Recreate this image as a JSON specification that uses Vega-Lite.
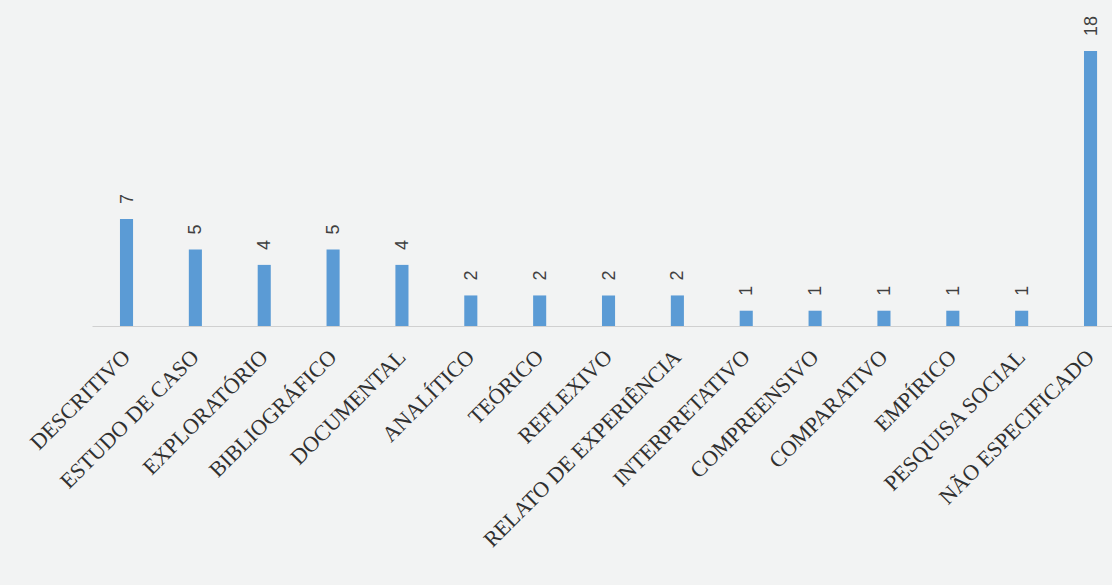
{
  "$schema": "https://vega.github.io/schema/vega-lite/v6.json",
  "width": 1020,
  "height": 275,
  "autosize": {"type": "none"},
  "padding": {"left": 92, "top": 51, "right": 0, "bottom": 259},
  "background": "#f2f3f3",
  "config": {"view": {"stroke": null}},
  "data": {
    "values": [
      {"categoria": "DESCRITIVO", "valor": 7},
      {"categoria": "ESTUDO DE CASO", "valor": 5},
      {"categoria": "EXPLORATÓRIO", "valor": 4},
      {"categoria": "BIBLIOGRÁFICO", "valor": 5},
      {"categoria": "DOCUMENTAL", "valor": 4},
      {"categoria": "ANALÍTICO", "valor": 2},
      {"categoria": "TEÓRICO", "valor": 2},
      {"categoria": "REFLEXIVO", "valor": 2},
      {"categoria": "RELATO DE EXPERIÊNCIA", "valor": 2},
      {"categoria": "INTERPRETATIVO", "valor": 1},
      {"categoria": "COMPREENSIVO", "valor": 1},
      {"categoria": "COMPARATIVO", "valor": 1},
      {"categoria": "EMPÍRICO", "valor": 1},
      {"categoria": "PESQUISA SOCIAL", "valor": 1},
      {"categoria": "NÃO ESPECIFICADO", "valor": 18}
    ]
  },
  "encoding": {
    "x": {
      "field": "categoria",
      "type": "nominal",
      "sort": null,
      "scale": {"paddingInner": 0.81, "paddingOuter": 0.3115, "align": 0.652},
      "axis": {
        "title": null,
        "ticks": false,
        "domainColor": "#d0d0d0",
        "domainWidth": 1,
        "labelAngle": -45,
        "labelAlign": "right",
        "labelBaseline": "middle",
        "labelPadding": 27,
        "labelFont": "Liberation Serif",
        "labelFontSize": 22,
        "labelColor": "#303030",
        "labelOverlap": false,
        "labelLimit": 0
      }
    },
    "y": {
      "field": "valor",
      "type": "quantitative",
      "scale": {"domain": [0, 18], "nice": false},
      "axis": null
    }
  },
  "layer": [
    {"mark": {"type": "bar", "color": "#5b9bd5"}},
    {
      "mark": {
        "type": "text",
        "angle": 270,
        "align": "left",
        "baseline": "middle",
        "dx": 15,
        "dy": 1,
        "font": "Liberation Sans",
        "fontSize": 18,
        "color": "#404040"
      },
      "encoding": {"text": {"field": "valor", "type": "quantitative"}}
    }
  ]
}
